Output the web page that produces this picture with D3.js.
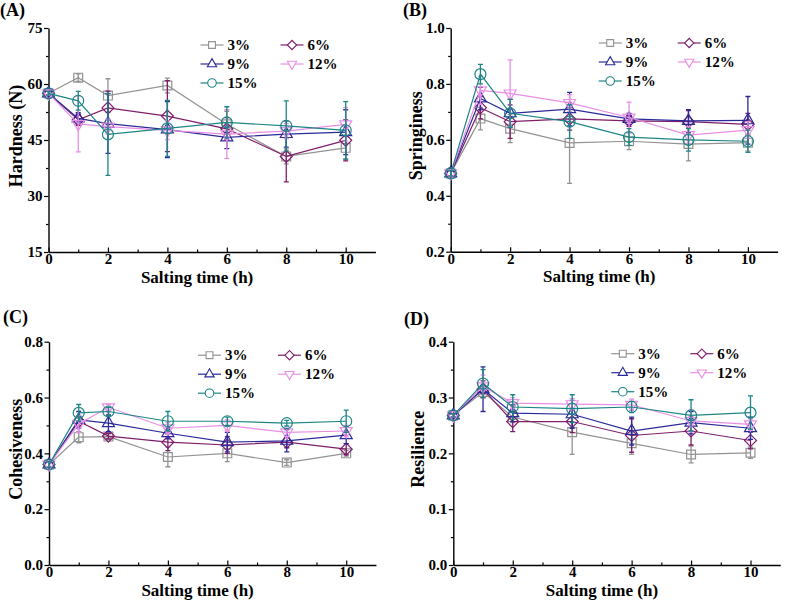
<!DOCTYPE html>
<html>
<head>
<meta charset="utf-8">
<script src="https://cdn.jsdelivr.net/npm/d3@7"></script>
<style>
  body { margin: 0; background: #fff; }
  svg text { font-family: "Liberation Serif", "Times New Roman", serif; font-weight: bold; fill: #000; }
</style>
</head>
<body>
<svg id="chart" width="787" height="604"></svg>
<script>
// salting times (h) and series
const times = [0, 1, 2, 4, 6, 8, 10]
const seriesNames = ["3%", "6%", "9%", "12%", "15%"]
const seriesColors = ["#929292", "#7f1d6a", "#2a2a9a", "#e88ee6", "#1d8585"]
const seriesSymbols = ["square", "diamond", "triangle", "triangleDown", "circle"]

// (A) hardness, N
const hardnessMean = [
  [57.5, 61.7, 56.9, 59.6, 49.2, 40.6, 42.9],
  [57.5, 50.4, 53.6, 51.4, 48.0, 40.6, 44.9],
  [57.5, 50.8, 49.4, 47.8, 45.7, 46.6, 47.1],
  [57.5, 49.3, 48.6, 47.6, 46.6, 47.4, 49.2],
  [57.5, 55.5, 46.5, 48.1, 49.7, 48.8, 47.6]
]
const hardnessErr = [
  [0.5, 1.0, 4.5, 2.0, 3.5, 2.0, 3.0],
  [0.5, 1.5, 4.5, 9.5, 3.0, 6.8, 5.5],
  [0.5, 1.5, 8.0, 7.5, 3.0, 3.5, 6.0],
  [0.5, 7.5, 2.0, 2.5, 6.5, 2.0, 4.5],
  [0.5, 2.5, 11.0, 7.5, 4.2, 6.7, 7.7]
]

// (B) springiness
const springMean = [
  [0.48, 0.676, 0.64, 0.589, 0.595, 0.585, 0.59],
  [0.48, 0.715, 0.665, 0.675, 0.668, 0.665, 0.655],
  [0.48, 0.748, 0.695, 0.71, 0.675, 0.668, 0.67],
  [0.48, 0.777, 0.766, 0.732, 0.68, 0.617, 0.635],
  [0.48, 0.835, 0.695, 0.665, 0.61, 0.60, 0.595]
]
const springErr = [
  [0.01, 0.04, 0.05, 0.145, 0.03, 0.06, 0.03],
  [0.01, 0.04, 0.06, 0.04, 0.02, 0.04, 0.04],
  [0.01, 0.04, 0.05, 0.06, 0.02, 0.04, 0.085],
  [0.01, 0.05, 0.12, 0.03, 0.055, 0.03, 0.03],
  [0.01, 0.035, 0.05, 0.06, 0.03, 0.04, 0.04]
]

// (C) cohesiveness
const cohesMean = [
  [0.36, 0.458, 0.46, 0.387, 0.40, 0.367, 0.40],
  [0.36, 0.515, 0.462, 0.44, 0.43, 0.44, 0.415],
  [0.36, 0.52, 0.508, 0.472, 0.44, 0.445, 0.465],
  [0.36, 0.505, 0.565, 0.49, 0.50, 0.475, 0.48],
  [0.36, 0.545, 0.55, 0.515, 0.515, 0.508, 0.515]
]
const cohesErr = [
  [0.01, 0.02, 0.01, 0.035, 0.03, 0.01, 0.01],
  [0.01, 0.02, 0.01, 0.03, 0.03, 0.02, 0.02],
  [0.01, 0.03, 0.03, 0.02, 0.035, 0.04, 0.03],
  [0.01, 0.03, 0.01, 0.02, 0.02, 0.015, 0.02],
  [0.01, 0.03, 0.015, 0.035, 0.015, 0.01, 0.04]
]

// (D) resilience
const resilMean = [
  [0.268, 0.31, 0.265, 0.238, 0.218, 0.198, 0.201],
  [0.268, 0.315, 0.257, 0.257, 0.232, 0.24, 0.223],
  [0.268, 0.315, 0.272, 0.27, 0.24, 0.255, 0.245],
  [0.268, 0.32, 0.29, 0.288, 0.287, 0.258, 0.252],
  [0.268, 0.325, 0.283, 0.28, 0.283, 0.268, 0.273]
]
const resilErr = [
  [0.003, 0.01, 0.01, 0.04, 0.02, 0.015, 0.01],
  [0.003, 0.015, 0.018, 0.02, 0.03, 0.025, 0.015],
  [0.003, 0.04, 0.015, 0.025, 0.025, 0.02, 0.02],
  [0.003, 0.02, 0.01, 0.01, 0.01, 0.02, 0.01],
  [0.003, 0.025, 0.022, 0.025, 0.01, 0.028, 0.03]
]

const panels = [
  {tag: "(A)", title: "Hardness (N)", mean: hardnessMean, err: hardnessErr,
   yDomain: [15, 75], yTicks: [15, 30, 45, 60, 75], fmt: d3.format("d"),
   x0: 48.5, top: 28, bottom: 252, tagX: 0, tagY: 16, titleX: 16,
   legend: {dx: 152, dy: 17, col2: 232}},
  {tag: "(B)", title: "Springiness", mean: springMean, err: springErr,
   yDomain: [0.2, 1.0], yTicks: [0.2, 0.4, 0.6, 0.8, 1.0], fmt: d3.format(".1f"),
   x0: 450.7, top: 28, bottom: 251.7, tagX: 403, tagY: 16, titleX: 416,
   legend: {dx: 148, dy: 15, col2: 227}},
  {tag: "(C)", title: "Cohesiveness", mean: cohesMean, err: cohesErr,
   yDomain: [0, 0.8], yTicks: [0, 0.2, 0.4, 0.6, 0.8], fmt: d3.format(".1f"),
   x0: 49, top: 341.7, bottom: 565, tagX: 3, tagY: 323, titleX: 16,
   legend: {dx: 149, dy: 13.5, col2: 229}},
  {tag: "(D)", title: "Resilience", mean: resilMean, err: resilErr,
   yDomain: [0, 0.4], yTicks: [0, 0.1, 0.2, 0.3, 0.4], fmt: d3.format(".1f"),
   x0: 453.3, top: 341.7, bottom: 565, tagX: 404, tagY: 325, titleX: 418,
   legend: {dx: 158, dy: 12, col2: 237}}
]

const unitX = 29.72   // px per hour
const xMax = 11

function symbolPath(kind, size) {
  if (kind === "circle") return d3.symbol(d3.symbolCircle, size)()
  if (kind === "triangle" || kind === "triangleDown") return d3.symbol(d3.symbolTriangle, size)()
  return d3.symbol(d3.symbolSquare, size)()
}
function symbolRotate(kind) {
  if (kind === "diamond") return 45
  if (kind === "triangleDown") return 180
  return 0
}
const symbolSize = {square: 78, diamond: 72, triangle: 62, triangleDown: 62, circle: 95}

const svg = d3.select("#chart")

panels.forEach(p => {
  var x = d3.scaleLinear().domain([0, xMax]).range([p.x0, p.x0 + xMax * unitX])
  var y = d3.scaleLinear().domain(p.yDomain).range([p.bottom, p.top])
  var g = svg.append("g")

  // panel tag
  g.append("text").attr("x", p.tagX).attr("y", p.tagY)
    .style("font-size", "18px").text(p.tag)

  // minor ticks
  var yStep = p.yTicks[1] - p.yTicks[0]
  var yMinor = p.yTicks.slice(0, -1).map(v => v + yStep / 2)
  g.append("g").attr("transform", `translate(${p.x0},0)`)
    .call(d3.axisLeft(y).tickValues(yMinor).tickSize(2.5).tickFormat(""))
    .call(a => a.select(".domain").remove())
    .selectAll("line").attr("stroke-width", 1.2)
  g.append("g").attr("transform", `translate(0,${p.bottom})`)
    .call(d3.axisBottom(x).tickValues([1, 3, 5, 7, 9]).tickSize(-2.5).tickFormat(""))
    .call(a => a.select(".domain").remove())
    .selectAll("line").attr("stroke-width", 1.2)

  // main axes
  var yAx = g.append("g").attr("transform", `translate(${p.x0},0)`)
    .call(d3.axisLeft(y).tickValues(p.yTicks).tickSize(4.5).tickSizeOuter(0)
      .tickPadding(1.5).tickFormat(p.fmt))
  var xAx = g.append("g").attr("transform", `translate(0,${p.bottom})`)
    .call(d3.axisBottom(x).tickValues([0, 2, 4, 6, 8, 10]).tickSize(-4.5)
      .tickSizeOuter(0))
  ;[yAx, xAx].forEach(a => {
    a.select(".domain").attr("stroke-width", 1.4)
    a.selectAll(".tick line").attr("stroke-width", 1.2)
    a.selectAll("text").style("font-size", "15px")
      .style("font-family", "'Liberation Serif', serif").style("font-weight", "bold")
  })
  xAx.selectAll(".tick text").attr("y", 12).attr("dy", null)

  // axis titles
  g.append("text")
    .attr("x", p.x0 + 5 * unitX).attr("y", p.bottom + 30.5)
    .attr("text-anchor", "middle").style("font-size", "17px")
    .text("Salting time (h)")
  g.append("text")
    .attr("transform", `translate(${p.titleX},${(p.top + p.bottom) / 2 - 4}) rotate(-90)`)
    .attr("text-anchor", "middle").attr("dy", "0.35em").style("font-size", "18px")
    .text(p.title)

  // series
  seriesNames.forEach((name, si) => {
    var pts = times.map((t, i) => ({t: t, v: p.mean[si][i], e: p.err[si][i]}))
    var col = seriesColors[si]
    var sg = g.append("g")
    sg.append("path").datum(pts)
      .attr("fill", "none").attr("stroke", col).attr("stroke-width", 1.2)
      .attr("d", d3.line().x(d => x(d.t)).y(d => y(d.v)))
    sg.selectAll(".err").data(pts).enter().append("path")
      .attr("fill", "none").attr("stroke", col).attr("stroke-width", 1.3)
      .attr("d", d => {
        var cx = x(d.t), y1 = y(d.v + d.e), y2 = y(d.v - d.e)
        return `M${cx},${y1}V${y2}M${cx - 2.5},${y1}H${cx + 2.5}M${cx - 2.5},${y2}H${cx + 2.5}`
      })
    var kind = seriesSymbols[si]
    sg.selectAll(".mk").data(pts).enter().append("path")
      .attr("d", symbolPath(kind, symbolSize[kind]))
      .attr("transform", d => `translate(${x(d.t)},${y(d.v)}) rotate(${symbolRotate(kind)})`)
      .attr("fill", "none").attr("stroke", col).attr("stroke-width", 1.2)
  })

  // legend
  var lg = g.append("g")
  seriesNames.forEach((name, si) => {
    var col = si % 2, row = Math.floor(si / 2)
    var lx = p.x0 + (col === 0 ? p.legend.dx : p.legend.col2)
    var ly = p.top + p.legend.dy + row * 19
    var kind = seriesSymbols[si]
    lg.append("line").attr("x1", lx).attr("x2", lx + 23).attr("y1", ly).attr("y2", ly)
      .attr("stroke", seriesColors[si]).attr("stroke-width", 1.2)
    lg.append("path")
      .attr("d", symbolPath(kind, symbolSize[kind] * 0.6))
      .attr("transform", `translate(${lx + 11.5},${ly}) rotate(${symbolRotate(kind)})`)
      .attr("fill", "#fff").attr("stroke", seriesColors[si]).attr("stroke-width", 1.1)
    lg.append("text").attr("x", lx + 27).attr("y", ly).attr("dy", "0.35em")
      .style("font-size", "15px").text(name)
  })
})
</script>
</body>
</html>
